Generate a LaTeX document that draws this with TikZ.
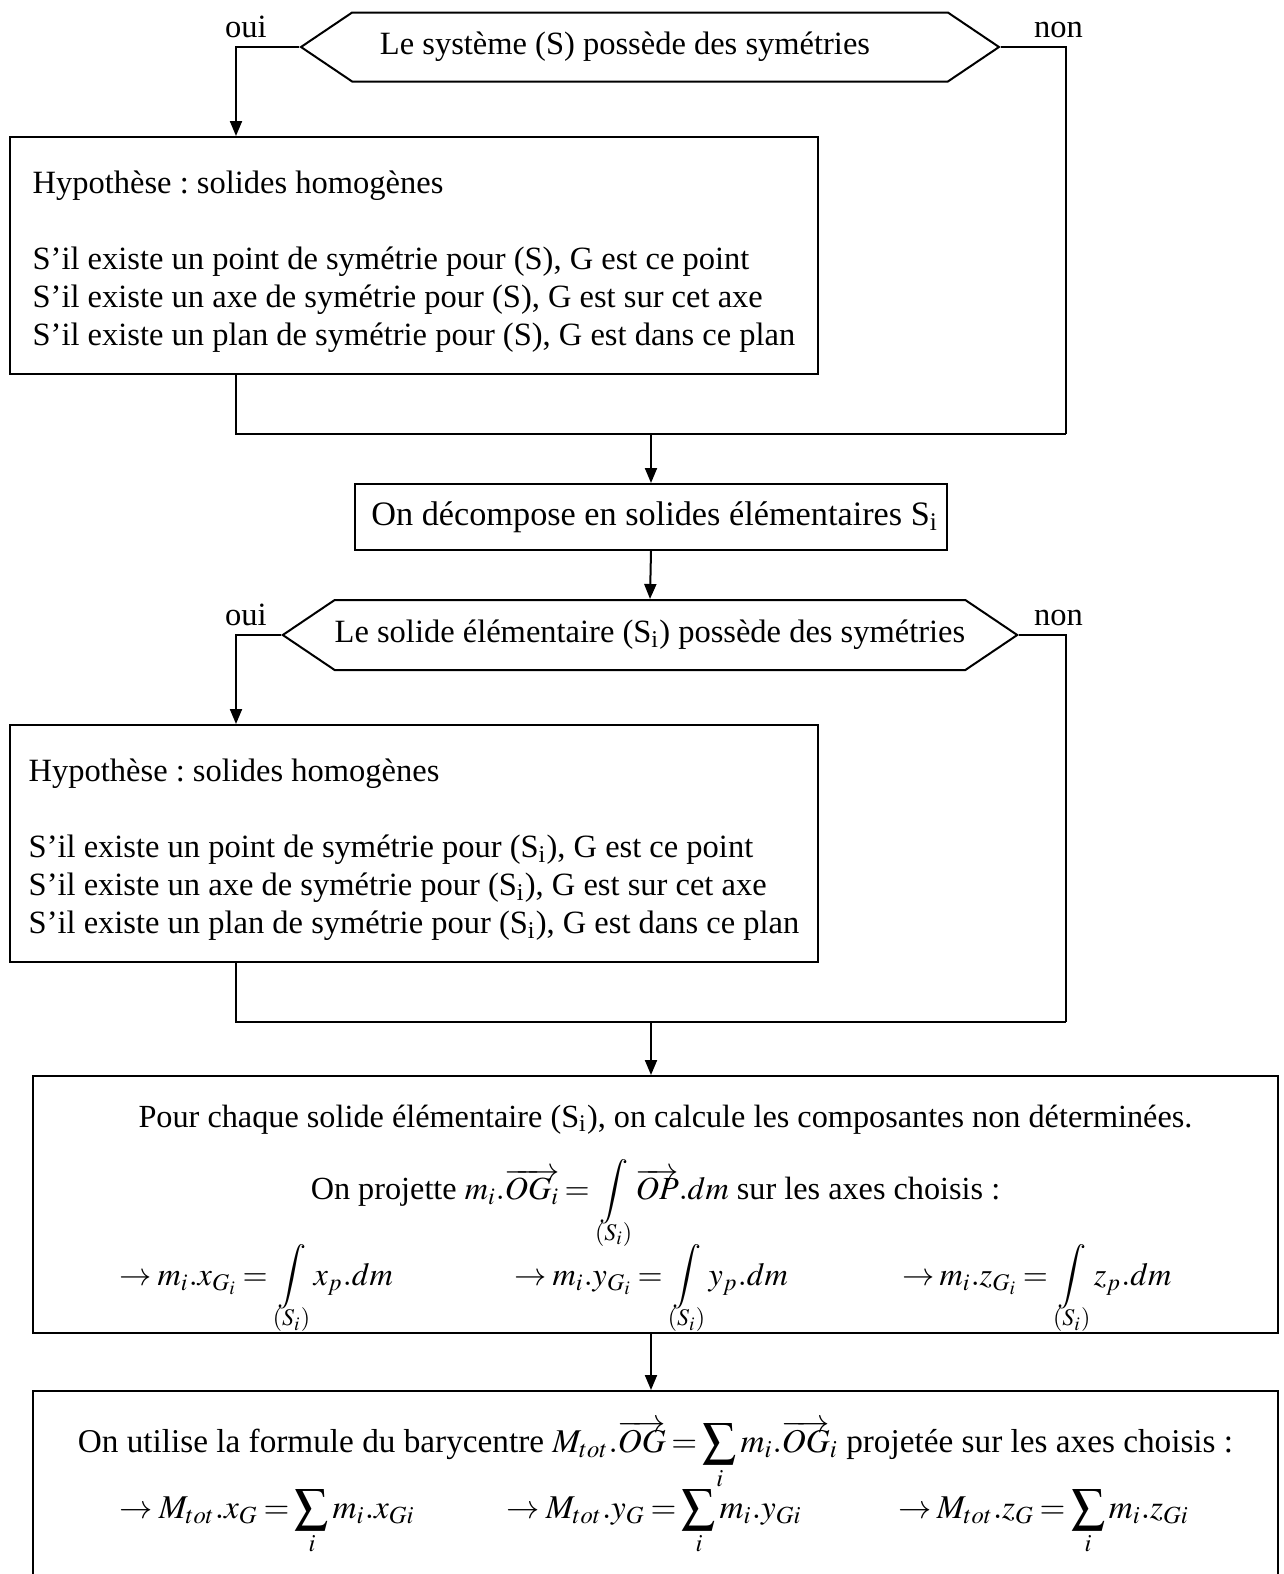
\documentclass[tikz,border=0pt]{standalone}
\usepackage{mathptmx}
\usepackage{fontspec}
\setmainfont{Liberation Serif}
\usetikzlibrary{arrows.meta,shapes.symbols}
\frenchspacing
\thickmuskip=3mu plus 2mu
\medmuskip=2mu plus 1mu
\newcommand\intS{\mathop{\displaystyle\int}\limits_{\smash{\raisebox{1.2pt}{$\scriptstyle(S_i)$}}}}

\tikzset{
  flow/.style={-{Triangle[length=6pt,width=4.8pt]}},
  txt/.style={font=\fontsize{13}{15.2}\selectfont},
  choix/.style={txt,draw,signal,signal to=west and east,signal pointer angle=68,inner sep=0pt},
  hypbox/.style={txt,draw,minimum width=323.2pt,minimum height=94.8pt,align=left},
  box/.style={draw,font=\fontsize{13.7}{16}\selectfont,inner xsep=3pt,minimum width=236.4pt,minimum height=26.4pt},
  bigbox/.style={draw,minimum width=498pt,inner xsep=0pt,inner ysep=0pt,align=center}
}

\begin{document}
\begin{tikzpicture}[x=0.4pt,y=-0.4pt,line width=0.8pt]
\useasboundingbox (0,0) rectangle (1284,1574);
\clip (0,0) rectangle (1284,1574);

% test sur le systeme
\node[choix,minimum width=279.2pt,minimum height=27.6pt] (sym) at (650,47)
  {Le système (S) possède des symétries\hspace*{20pt}};
\coordinate[label={[txt,xshift=4pt]above:oui}] (ouiA) at (236,47);
\coordinate[label={[txt,xshift=-3pt]above:non}] (nonA) at (1066,47);
\node[hypbox] (hyp) at (414,255.5) {\rule{0pt}{14pt}Hypothèse : solides homogènes\\[15.2pt]
  S’il existe un point de symétrie pour (S), G est ce point\\
  S’il existe un axe de symétrie pour (S), G est sur cet axe\\
  S’il existe un plan de symétrie pour (S), G est dans ce plan};
\coordinate (joinA) at (651,434);
\draw[flow] (sym.west) -- (ouiA) -- (ouiA |- hyp.north);
\draw (sym.east) -- (nonA) -- (nonA |- joinA);
\draw (ouiA |- hyp.south) -- (ouiA |- joinA) -- (nonA |- joinA);

\node[box] (decomp) at (651,517) {\hspace*{3pt}On décompose en solides élémentaires S\textsubscript{i}};
\draw[flow] (joinA) -- (decomp.north);

% test sur chaque solide
\node[choix,minimum width=291.2pt,minimum height=28pt] (symi) at (650,635)
  {Le solide élémentaire (S\textsubscript{i}) possède des symétries};
\draw[flow] (decomp.south) -- (symi.north);
\coordinate[label={[txt,xshift=4pt]above:oui}] (ouiB) at (236,635);
\coordinate[label={[txt,xshift=-3pt]above:non}] (nonB) at (1066,635);
\node[hypbox] (hypi) at (414,843.5) {\rule{0pt}{14pt}Hypothèse : solides homogènes\\[15.2pt]
  S’il existe un point de symétrie pour (S\textsubscript{i}), G est ce point\\
  S’il existe un axe de symétrie pour (S\textsubscript{i}), G est sur cet axe\\
  S’il existe un plan de symétrie pour (S\textsubscript{i}), G est dans ce plan};
\coordinate (joinB) at (651,1022);
\draw[flow] (symi.west) -- (ouiB) -- (ouiB |- hypi.north);
\draw (symi.east) -- (nonB) -- (nonB |- joinB);
\draw (ouiB |- hypi.south) -- (ouiB |- joinB) -- (nonB |- joinB);

% calcul des composantes
\node[bigbox,font=\fontsize{12.9}{15}\selectfont,minimum height=102.8pt] (calc) at (655.5,1204.5) {%
  \rule{0pt}{20pt}\hspace*{8pt}Pour chaque solide élémentaire (S\textsubscript{i}), on calcule les composantes non déterminées.\\[9.2pt]
  On projette $m_i.\overrightarrow{OG_i}=\intS\overrightarrow{OP}.dm$ sur les axes choisis :\\[-1.6pt]
  \makebox[498pt][l]{\hspace*{34.8pt}%
    \makebox[158pt][l]{$\rightarrow m_i.x_{G_i}=\intS x_p.dm$}%
    \makebox[154.8pt][l]{$\rightarrow m_i.y_{G_i}=\intS y_p.dm$}%
    $\rightarrow m_i.z_{G_i}=\intS z_p.dm$}};
\draw[flow] (joinB) -- (joinB |- calc.north);

% barycentre
\node[bigbox,font=\fontsize{13.3}{15.2}\selectfont,anchor=north,minimum height=77.6pt] (bary) at (655.5,1390) {%
  On utilise la formule du barycentre $M_{tot}.\overrightarrow{OG}=\displaystyle\sum_i m_i.\overrightarrow{OG}_{i}$ projetée sur les axes choisis :\\[-1.2pt]
  \makebox[498pt][l]{\hspace*{34.8pt}%
    \makebox[154.8pt][l]{$\rightarrow M_{tot}.x_G=\displaystyle\sum_i m_i.x_{Gi}$}%
    \makebox[156.4pt][l]{$\rightarrow M_{tot}.y_G=\displaystyle\sum_i m_i.y_{Gi}$}%
    $\rightarrow M_{tot}.z_G=\displaystyle\sum_i m_i.z_{Gi}$}};
\draw[flow] (calc.south -| joinB) -- (bary.north -| joinB);
\end{tikzpicture}
\end{document}
